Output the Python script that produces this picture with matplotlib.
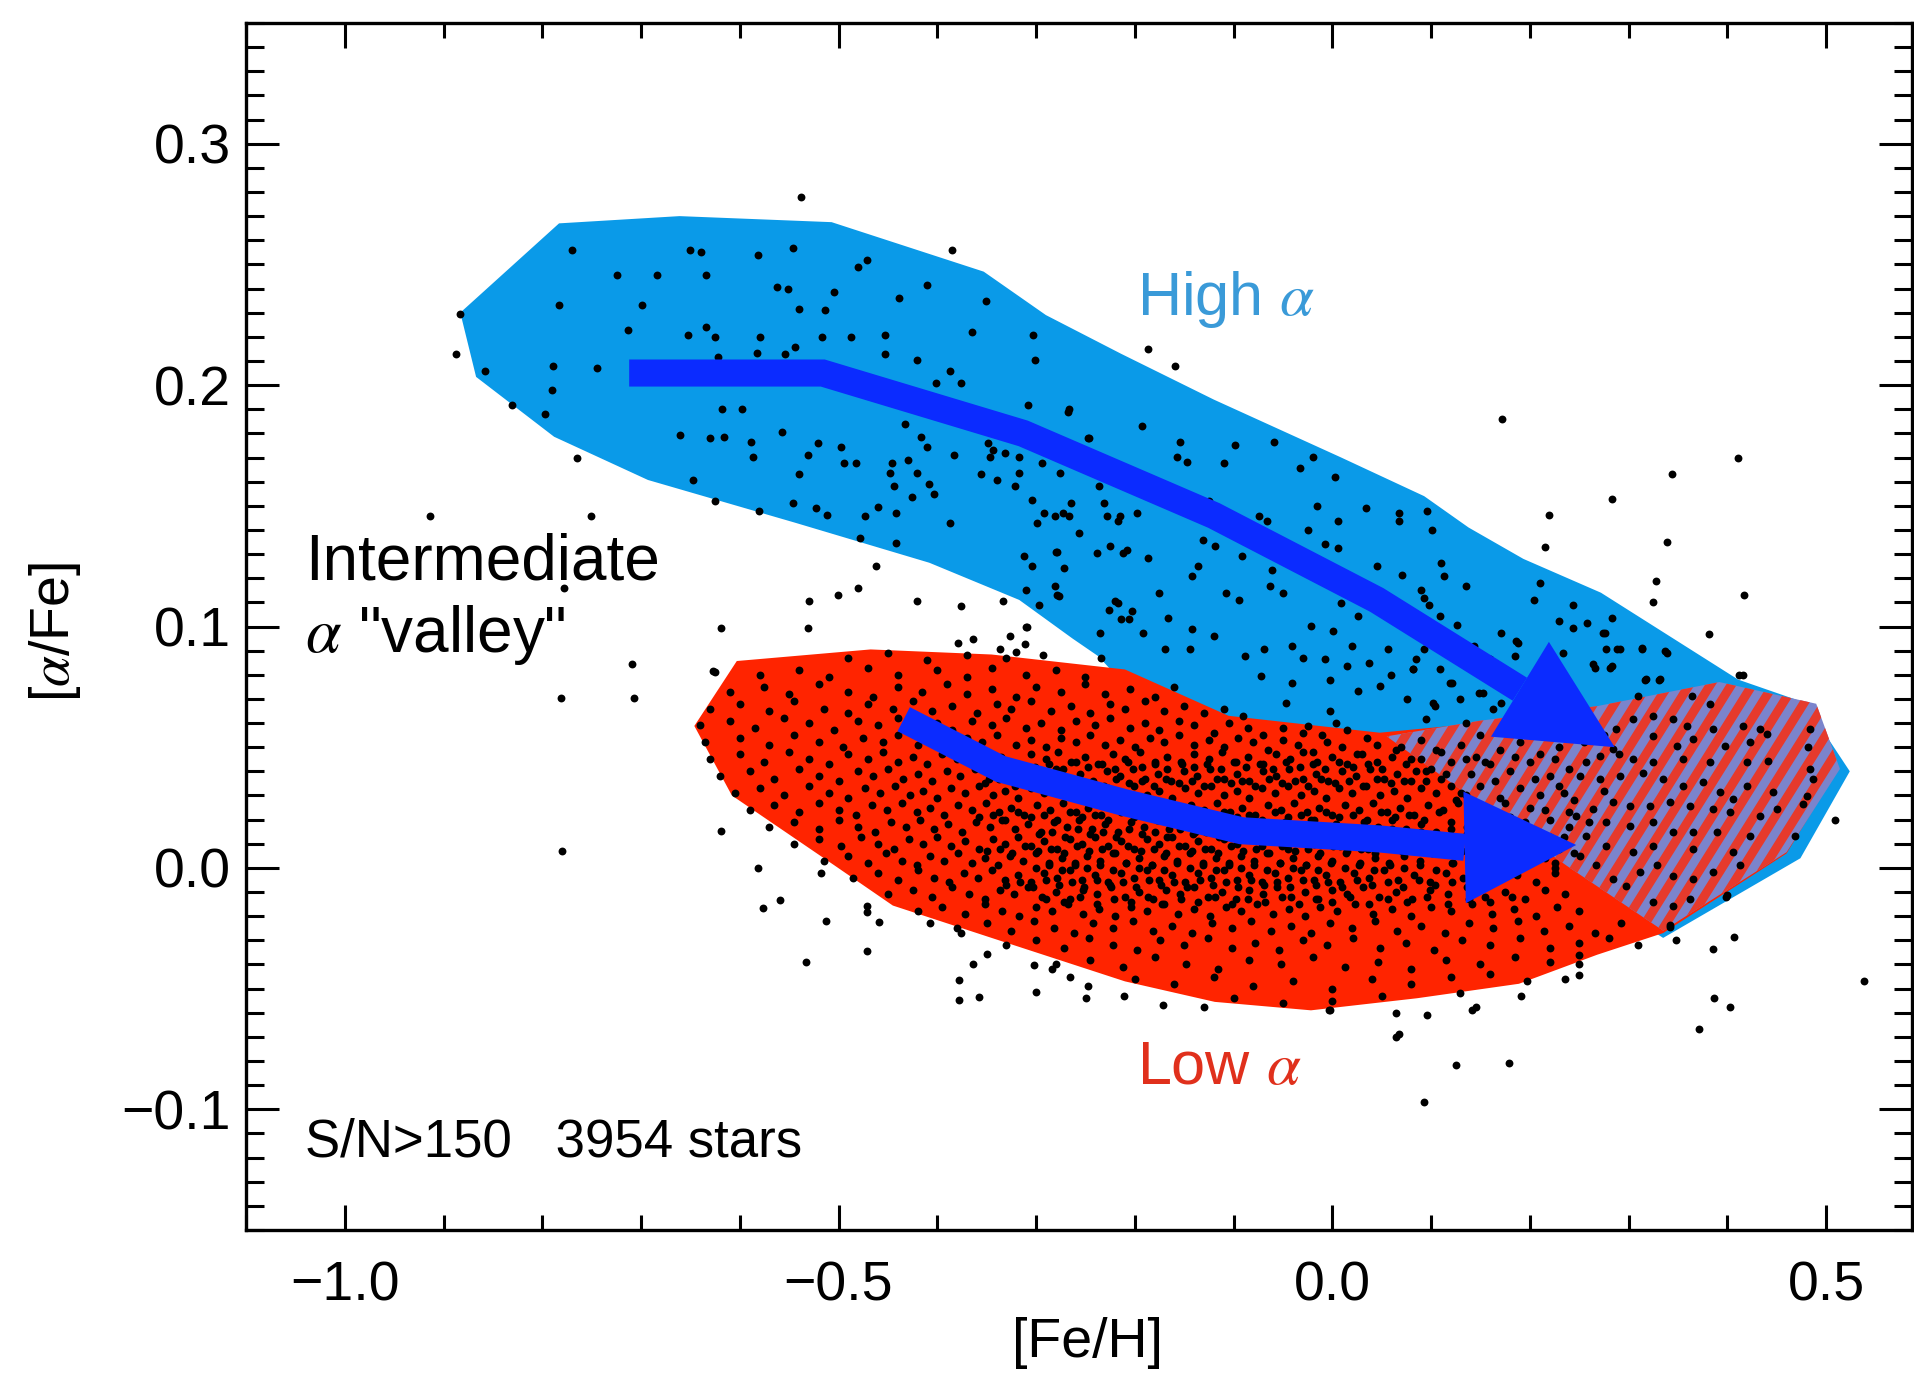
import matplotlib
matplotlib.use('Agg')
import matplotlib.pyplot as plt
import numpy as np
from matplotlib.patches import Polygon
from matplotlib.collections import LineCollection
from matplotlib.ticker import MultipleLocator

plt.rcParams['font.family'] = ['Liberation Sans', 'DejaVu Sans']
plt.rcParams['mathtext.fontset'] = 'stix'

# region outlines ([Fe/H], [alpha/Fe])
high_alpha_region = [(-0.883, 0.230), (-0.783, 0.267), (-0.661, 0.270), (-0.507, 0.2675), (-0.353, 0.247),
                     (-0.29, 0.229), (-0.214, 0.213), (-0.12, 0.194), (0.009, 0.170), (0.093, 0.154),
                     (0.138, 0.141), (0.1935, 0.128), (0.272, 0.114), (0.411, 0.078), (0.478, 0.0685),
                     (0.524, 0.040), (0.474, 0.004), (0.335, -0.029), (0.233, -0.002), (0.06, 0.045),
                     (-0.1, 0.052), (-0.215, 0.078), (-0.237, 0.0877), (-0.263, 0.095), (-0.317, 0.111),
                     (-0.408, 0.1264), (-0.544, 0.143), (-0.693, 0.1607), (-0.788, 0.1786), (-0.867, 0.2034)]
low_alpha_region = [(-0.646, 0.0588), (-0.603, 0.0857), (-0.4675, 0.0905), (-0.345, 0.0884), (-0.21, 0.0822),
                    (-0.105, 0.063), (0.048, 0.056), (0.15, 0.060), (0.268, 0.066), (0.392, 0.076),
                    (0.49, 0.067), (0.512, 0.041), (0.46, 0.006), (0.335, -0.027), (0.268, -0.036),
                    (0.189, -0.048), (0.0857, -0.054), (-0.0216, -0.059), (-0.119, -0.0555), (-0.21, -0.047),
                    (-0.345, -0.029), (-0.445, -0.0156), (-0.504, 0.001), (-0.608, 0.030)]
overlap_region = [(0.055, 0.0545), (0.15, 0.061), (0.268, 0.067), (0.392, 0.077), (0.49, 0.068),
                  (0.514, 0.041), (0.46, 0.0065), (0.335, -0.026), (0.237, 0.001)]

# evolution arrows
arrow_upper_path = [(-0.712, 0.205), (-0.516, 0.205), (-0.313, 0.180), (-0.12, 0.146), (0.045, 0.111), (0.19, 0.074)]
arrow_upper_tip = (0.286, 0.050)
arrow_lower_path = [(-0.434, 0.0616), (-0.336, 0.041), (-0.21, 0.027), (-0.092, 0.0154), (0.048, 0.012), (0.134, 0.0085)]
arrow_lower_tip = (0.247, 0.0095)

# stars
stars_high = [
    (-0.883, 0.2296), (-0.858, 0.206), (-0.831, 0.1917), (-0.797, 0.188), (-0.790, 0.198), (-0.789, 0.208),
    (-0.745, 0.207), (-0.783, 0.233), (-0.770, 0.256), (-0.7245, 0.2455), (-0.684, 0.2455), (-0.634, 0.2455),
    (-0.650, 0.256), (-0.639, 0.255), (-0.582, 0.2537), (-0.5456, 0.257), (-0.699, 0.233), (-0.713, 0.2227),
    (-0.652, 0.2207), (-0.634, 0.224), (-0.625, 0.220), (-0.6225, 0.2117), (-0.580, 0.220), (-0.583, 0.2134),
    (-0.554, 0.213), (-0.544, 0.2158), (-0.562, 0.2406), (-0.551, 0.240), (-0.540, 0.2317), (-0.514, 0.2313),
    (-0.505, 0.2386), (-0.517, 0.220), (-0.487, 0.220), (-0.453, 0.2207), (-0.453, 0.213), (-0.421, 0.2106),
    (-0.439, 0.236), (-0.410, 0.2413), (-0.480, 0.2489), (-0.471, 0.252), (-0.3646, 0.222), (-0.351, 0.235),
    (-0.387, 0.206), (-0.376, 0.2007), (-0.401, 0.2007), (-0.3035, 0.2207), (-0.301, 0.2103), (-0.308, 0.1917),
    (-0.267, 0.190), (-0.247, 0.178), (-0.661, 0.1793), (-0.630, 0.178), (-0.616, 0.1786), (-0.618, 0.190),
    (-0.598, 0.190), (-0.6476, 0.1607), (-0.625, 0.1518), (-0.5806, 0.148), (-0.5456, 0.151), (-0.523, 0.149),
    (-0.512, 0.146), (-0.4736, 0.1456), (-0.460, 0.1497), (-0.4416, 0.147), (-0.478, 0.1366), (-0.4416, 0.1346),
    (-0.387, 0.1429), (-0.589, 0.1766), (-0.5865, 0.1704), (-0.557, 0.1807), (-0.521, 0.176), (-0.531, 0.171),
    (-0.498, 0.1745), (-0.494, 0.1676), (-0.482, 0.1676), (-0.540, 0.163), (-0.4462, 0.1676), (-0.448, 0.1635),
    (-0.430, 0.169), (-0.421, 0.1635), (-0.426, 0.1538), (-0.408, 0.159), (-0.403, 0.155), (-0.444, 0.158),
    (-0.383, 0.171), (-0.4326, 0.184), (-0.4168, 0.1786), (-0.410, 0.1745), (-0.349, 0.176), (-0.344, 0.173),
    (-0.347, 0.1704), (-0.331, 0.1718), (-0.3176, 0.1704), (-0.3176, 0.1635), (-0.3217, 0.158), (-0.3556, 0.163),
    (-0.3398, 0.1607), (-0.2944, 0.1676), (-0.3036, 0.1525), (-0.292, 0.147), (-0.281, 0.1456), (-0.267, 0.1456),
    (-0.299, 0.1429), (-0.3126, 0.129), (-0.279, 0.131), (-0.272, 0.1243), (-0.3036, 0.1249), (-0.310, 0.1153),
    (-0.2967, 0.109), (-0.2764, 0.1125), (-0.281, 0.1167), (-0.238, 0.1305), (-0.215, 0.1456), (-0.208, 0.1318),
    (-0.2175, 0.1098), (-0.206, 0.1029), (-0.2356, 0.0974), (-0.2266, 0.107),
    (-0.2674, 0.189), (-0.193, 0.183), (-0.2468, 0.178), (-0.154, 0.1766), (-0.0984, 0.175), (-0.059, 0.1766),
    (-0.157, 0.1704), (-0.147, 0.168), (-0.1095, 0.1676), (-0.020, 0.1704), (-0.0328, 0.1656), (0.0024, 0.162),
    (-0.2758, 0.1635), (-0.2367, 0.158), (-0.273, 0.147), (-0.228, 0.1456), (-0.217, 0.1435), (-0.1977, 0.147),
    (-0.256, 0.1387), (-0.280, 0.131), (-0.2255, 0.1332), (-0.2116, 0.1305), (-0.1865, 0.1284), (-0.279, 0.1132),
    (-0.220, 0.1105), (-0.203, 0.1063), (-0.1754, 0.114), (-0.1668, 0.1036), (-0.2144, 0.1029), (-0.192, 0.0974),
    (-0.1417, 0.0988), (-0.1196, 0.096), (-0.1445, 0.0905), (-0.1697, 0.0905), (-0.234, 0.087), (-0.125, 0.1518),
    (-0.131, 0.136), (-0.119, 0.1332), (-0.0746, 0.1456), (-0.0663, 0.1435), (-0.0915, 0.129), (-0.136, 0.1249),
    (-0.1417, 0.1208), (-0.108, 0.114), (-0.0943, 0.111), (-0.0608, 0.1236), (-0.0635, 0.1167), (-0.0497, 0.114),
    (-0.0243, 0.140), (-0.0076, 0.134), (0.006, 0.1325), (-0.016, 0.150), (0.006, 0.1435), (0.0343, 0.149),
    (0.0679, 0.147), (0.0679, 0.1435), (0.0957, 0.1477), (0.1014, 0.140), (0.0454, 0.1249), (0.0706, 0.1215),
    (0.1097, 0.1263), (0.1126, 0.1208), (0.1349, 0.1167), (0.090, 0.1153), (0.0929, 0.1118), (0.0984, 0.109),
    (0.1095, 0.1043), (0.1265, 0.1008), (0.0091, 0.1098), (0.0259, 0.1043), (-0.0216, 0.1001), (-0.0412, 0.0919),
    (0.0007, 0.098), (0.0203, 0.0919), (-0.0076, 0.0864), (-0.030, 0.087), (0.0147, 0.0836), (0.0371, 0.085),
    (0.0566, 0.0905), (0.0818, 0.0822), (0.0594, 0.080), (-0.069, 0.0905), (-0.0886, 0.0877), (-0.072, 0.0795),
    (-0.041, 0.0767), (-0.002, 0.078), (0.026, 0.0733), (0.048, 0.0753), (-0.0467, 0.0685), (-0.002, 0.065),
    (0.0036, 0.0602), (-0.0243, 0.0588), (0.076, 0.0698), (0.104, 0.067), (0.1207, 0.0767), (0.149, 0.0726),
    (0.160, 0.0795), (0.143, 0.0919), (0.160, 0.0864), (0.0929, 0.0905), (0.188, 0.0933), (0.171, 0.0974),
    (0.2047, 0.111), (0.2103, 0.118), (0.2298, 0.1022), (0.2438, 0.0995), (0.2578, 0.1015), (0.2438, 0.109),
    (0.283, 0.1036), (0.2745, 0.0974), (0.266, 0.083), (0.2774, 0.0905), (0.2885, 0.0905), (0.3137, 0.0912),
    (0.3388, 0.0891), (0.3164, 0.078), (0.3304, 0.078), (0.283, 0.0836), (0.4115, 0.080), (0.185, 0.0877),
    (0.171, 0.0685), (0.1095, 0.0822), (-0.2546, 0.167), (-0.231, 0.151), (-0.2647, 0.151),
    (0.1863, 0.0939), (0.2336, 0.0891), (0.2759, 0.0974), (0.2911, 0.0905), (0.3131, 0.0905), (0.3367, 0.0898),
    (0.264, 0.0843), (0.2809, 0.0829), (0.3181, 0.0781), (0.3316, 0.0781), (0.0849, 0.0864), (0.0815, 0.0822),
    (0.1187, 0.0767), (0.1288, 0.0698), (0.1524, 0.0726), (0.1626, 0.0657), (0.1017, 0.0685), (0.095, 0.0616),
    (0.1356, 0.0602), (0.416, 0.080),
]

stars_low = [
    (-0.49, 0.087), (-0.45, 0.089), (-0.41, 0.086), (-0.37, 0.088), (-0.33, 0.087),
    (-0.58, 0.080), (-0.54, 0.082), (-0.51, 0.079), (-0.47, 0.083), (-0.44, 0.080), (-0.40, 0.082), (-0.37, 0.079),
    (-0.345, 0.083), (-0.31, 0.080), (-0.28, 0.082), (-0.25, 0.079),
    (-0.61, 0.073), (-0.575, 0.075), (-0.55, 0.072), (-0.52, 0.076), (-0.49, 0.073), (-0.465, 0.071), (-0.44, 0.075),
    (-0.415, 0.073), (-0.39, 0.076), (-0.37, 0.072), (-0.345, 0.074), (-0.32, 0.071), (-0.30, 0.075), (-0.275, 0.073),
    (-0.25, 0.076), (-0.23, 0.072), (-0.205, 0.074), (-0.18, 0.071), (-0.16, 0.075),
    (-0.63, 0.066), (-0.60, 0.068), (-0.57, 0.065), (-0.545, 0.069), (-0.515, 0.066), (-0.49, 0.064), (-0.47, 0.068),
    (-0.445, 0.066), (-0.425, 0.069), (-0.405, 0.065), (-0.385, 0.067), (-0.36, 0.064), (-0.34, 0.068), (-0.325, 0.066),
    (-0.305, 0.069), (-0.285, 0.065), (-0.265, 0.067), (-0.245, 0.064), (-0.225, 0.068), (-0.21, 0.066), (-0.19, 0.069),
    (-0.17, 0.065), (-0.15, 0.067), (-0.13, 0.064), (-0.11, 0.066), (-0.09, 0.063),
    (-0.64, 0.059), (-0.61, 0.061), (-0.585, 0.058), (-0.555, 0.062), (-0.53, 0.060), (-0.505, 0.057), (-0.48, 0.061),
    (-0.46, 0.059), (-0.44, 0.062), (-0.42, 0.058), (-0.40, 0.060), (-0.385, 0.057), (-0.365, 0.061), (-0.345, 0.059),
    (-0.33, 0.062), (-0.31, 0.058), (-0.295, 0.060), (-0.275, 0.057), (-0.26, 0.061), (-0.24, 0.059), (-0.225, 0.062),
    (-0.205, 0.058), (-0.19, 0.060), (-0.175, 0.057), (-0.155, 0.061), (-0.14, 0.059), (-0.12, 0.056), (-0.105, 0.060),
    (-0.085, 0.058), (-0.07, 0.055), (-0.05, 0.058), (-0.03, 0.056), (-0.01, 0.055), (0.015, 0.057), (0.035, 0.054),
    (-0.635, 0.052), (-0.60, 0.054), (-0.57, 0.051), (-0.545, 0.055), (-0.52, 0.052), (-0.495, 0.050), (-0.475, 0.054),
    (-0.455, 0.052), (-0.44, 0.055), (-0.42, 0.051), (-0.405, 0.053), (-0.39, 0.050), (-0.37, 0.054), (-0.355, 0.052),
    (-0.34, 0.055), (-0.32, 0.051), (-0.305, 0.053), (-0.29, 0.050), (-0.275, 0.054), (-0.26, 0.052), (-0.245, 0.055),
    (-0.23, 0.051), (-0.215, 0.053), (-0.20, 0.050), (-0.185, 0.054), (-0.17, 0.052), (-0.155, 0.055), (-0.14, 0.051),
    (-0.125, 0.053), (-0.11, 0.050), (-0.095, 0.054), (-0.08, 0.052), (-0.065, 0.049), (-0.05, 0.053), (-0.035, 0.051),
    (-0.02, 0.048), (-0.005, 0.052), (0.01, 0.050), (0.025, 0.047), (0.045, 0.051), (0.065, 0.049),
    (-0.63, 0.045), (-0.60, 0.047), (-0.575, 0.044), (-0.55, 0.048), (-0.53, 0.045), (-0.51, 0.043), (-0.49, 0.047),
    (-0.47, 0.045), (-0.455, 0.048), (-0.44, 0.044), (-0.425, 0.046), (-0.41, 0.043), (-0.395, 0.047), (-0.38, 0.045),
    (-0.365, 0.048), (-0.35, 0.044), (-0.335, 0.046), (-0.32, 0.043), (-0.305, 0.047), (-0.29, 0.045), (-0.278, 0.048),
    (-0.265, 0.044), (-0.25, 0.046), (-0.237, 0.043), (-0.222, 0.047), (-0.21, 0.045), (-0.195, 0.048), (-0.18, 0.044),
    (-0.167, 0.046), (-0.152, 0.043), (-0.14, 0.047), (-0.125, 0.045), (-0.112, 0.048), (-0.098, 0.044), (-0.085, 0.046),
    (-0.07, 0.043), (-0.057, 0.047), (-0.043, 0.045), (-0.03, 0.048), (-0.015, 0.044), (0.0, 0.046), (0.015, 0.043),
    (0.03, 0.047), (0.045, 0.044), (0.06, 0.046), (0.075, 0.043), (0.09, 0.045),
    (-0.62, 0.038), (-0.59, 0.040), (-0.565, 0.037), (-0.54, 0.041), (-0.52, 0.038), (-0.50, 0.036), (-0.48, 0.040),
    (-0.465, 0.038), (-0.45, 0.041), (-0.435, 0.037), (-0.42, 0.039), (-0.405, 0.036), (-0.39, 0.040), (-0.377, 0.038),
    (-0.362, 0.041), (-0.348, 0.037), (-0.333, 0.039), (-0.32, 0.036), (-0.307, 0.040), (-0.294, 0.038), (-0.28, 0.041),
    (-0.268, 0.037), (-0.255, 0.039), (-0.242, 0.036), (-0.228, 0.040), (-0.215, 0.038), (-0.202, 0.041), (-0.19, 0.037),
    (-0.176, 0.039), (-0.163, 0.036), (-0.15, 0.040), (-0.137, 0.038), (-0.124, 0.041), (-0.11, 0.037), (-0.097, 0.039),
    (-0.084, 0.036), (-0.07, 0.040), (-0.057, 0.038), (-0.044, 0.041), (-0.03, 0.037), (-0.017, 0.039), (-0.004, 0.036),
    (0.01, 0.040), (0.024, 0.038), (0.038, 0.041), (0.052, 0.037), (0.066, 0.039), (0.08, 0.036), (0.095, 0.040), (0.11, 0.037),
    (-0.605, 0.031), (-0.58, 0.033), (-0.555, 0.030), (-0.53, 0.034), (-0.51, 0.031), (-0.49, 0.029), (-0.473, 0.033),
    (-0.458, 0.031), (-0.443, 0.034), (-0.428, 0.030), (-0.414, 0.032), (-0.4, 0.029), (-0.386, 0.033), (-0.372, 0.031),
    (-0.358, 0.034), (-0.344, 0.030), (-0.331, 0.032), (-0.318, 0.029), (-0.305, 0.033), (-0.292, 0.031), (-0.279, 0.034),
    (-0.266, 0.030), (-0.253, 0.032), (-0.24, 0.029), (-0.227, 0.033), (-0.214, 0.031), (-0.201, 0.034), (-0.188, 0.030),
    (-0.175, 0.032), (-0.162, 0.029), (-0.149, 0.033), (-0.136, 0.031), (-0.123, 0.034), (-0.11, 0.030), (-0.097, 0.032),
    (-0.084, 0.029), (-0.071, 0.033), (-0.058, 0.031), (-0.045, 0.034), (-0.032, 0.030), (-0.019, 0.032), (-0.006, 0.029),
    (0.007, 0.033), (0.02, 0.031), (0.034, 0.034), (0.048, 0.030), (0.062, 0.032), (0.076, 0.029), (0.09, 0.033),
    (0.105, 0.031), (0.12, 0.034), (0.135, 0.030),
    (-0.59, 0.024), (-0.565, 0.026), (-0.54, 0.023), (-0.52, 0.027), (-0.5, 0.024), (-0.482, 0.022), (-0.466, 0.026),
    (-0.451, 0.024), (-0.436, 0.027), (-0.421, 0.023), (-0.407, 0.025), (-0.393, 0.022), (-0.379, 0.026), (-0.365, 0.024),
    (-0.351, 0.027), (-0.338, 0.023), (-0.325, 0.025), (-0.312, 0.022), (-0.299, 0.026), (-0.286, 0.024), (-0.273, 0.027),
    (-0.26, 0.023), (-0.247, 0.025), (-0.234, 0.022), (-0.221, 0.026), (-0.208, 0.024), (-0.195, 0.027), (-0.182, 0.023),
    (-0.169, 0.025), (-0.156, 0.022), (-0.143, 0.026), (-0.13, 0.024), (-0.117, 0.027), (-0.104, 0.023), (-0.091, 0.025),
    (-0.078, 0.022), (-0.065, 0.026), (-0.052, 0.024), (-0.039, 0.027), (-0.026, 0.023), (-0.013, 0.025), (0.0, 0.022),
    (0.013, 0.026), (0.027, 0.024), (0.041, 0.027), (0.055, 0.023), (0.069, 0.025), (0.083, 0.022), (0.097, 0.026),
    (0.112, 0.024), (0.127, 0.027), (0.142, 0.023), (0.158, 0.025),
    (-0.57, 0.017), (-0.545, 0.019), (-0.52, 0.016), (-0.5, 0.020), (-0.48, 0.017), (-0.463, 0.015), (-0.447, 0.019),
    (-0.432, 0.017), (-0.417, 0.020), (-0.403, 0.016), (-0.389, 0.018), (-0.375, 0.015), (-0.361, 0.019), (-0.347, 0.017),
    (-0.334, 0.020), (-0.321, 0.016), (-0.308, 0.018), (-0.295, 0.015), (-0.282, 0.019), (-0.269, 0.017), (-0.256, 0.020),
    (-0.243, 0.016), (-0.23, 0.018), (-0.217, 0.015), (-0.204, 0.019), (-0.191, 0.017), (-0.178, 0.020), (-0.165, 0.016),
    (-0.152, 0.018), (-0.139, 0.015), (-0.126, 0.019), (-0.113, 0.017), (-0.1, 0.020), (-0.087, 0.016), (-0.074, 0.018),
    (-0.061, 0.015), (-0.048, 0.019), (-0.035, 0.017), (-0.022, 0.020), (-0.009, 0.016), (0.004, 0.018), (0.018, 0.015),
    (0.032, 0.019), (0.046, 0.017), (0.06, 0.020), (0.075, 0.016), (0.09, 0.018), (0.105, 0.015), (0.12, 0.019),
    (0.136, 0.017), (0.152, 0.020), (0.168, 0.016), (0.185, 0.018),
    (-0.545, 0.010), (-0.52, 0.012), (-0.497, 0.009), (-0.477, 0.013), (-0.46, 0.010), (-0.444, 0.008), (-0.429, 0.012),
    (-0.414, 0.010), (-0.4, 0.013), (-0.386, 0.009), (-0.372, 0.011), (-0.358, 0.008), (-0.344, 0.012), (-0.331, 0.010),
    (-0.318, 0.013), (-0.305, 0.009), (-0.292, 0.011), (-0.279, 0.008), (-0.266, 0.012), (-0.253, 0.010), (-0.24, 0.013),
    (-0.227, 0.009), (-0.214, 0.011), (-0.201, 0.008), (-0.188, 0.012), (-0.175, 0.010), (-0.162, 0.013), (-0.149, 0.009),
    (-0.136, 0.011), (-0.123, 0.008), (-0.11, 0.012), (-0.097, 0.010), (-0.084, 0.013), (-0.071, 0.009), (-0.058, 0.011),
    (-0.045, 0.008), (-0.032, 0.012), (-0.019, 0.010), (-0.006, 0.013), (0.008, 0.009), (0.022, 0.011), (0.036, 0.008),
    (0.05, 0.012), (0.065, 0.010), (0.08, 0.013), (0.095, 0.009), (0.11, 0.011), (0.126, 0.008), (0.142, 0.012),
    (0.158, 0.010), (0.175, 0.013), (0.192, 0.009), (0.21, 0.011),
    (-0.515, 0.003), (-0.49, 0.005), (-0.47, 0.002), (-0.452, 0.006), (-0.436, 0.003), (-0.421, 0.001), (-0.407, 0.005),
    (-0.393, 0.003), (-0.379, 0.006), (-0.365, 0.002), (-0.352, 0.004), (-0.339, 0.001), (-0.326, 0.005), (-0.313, 0.003),
    (-0.3, 0.006), (-0.287, 0.002), (-0.274, 0.004), (-0.261, 0.001), (-0.248, 0.005), (-0.235, 0.003), (-0.222, 0.006),
    (-0.209, 0.002), (-0.196, 0.004), (-0.183, 0.001), (-0.17, 0.005), (-0.157, 0.003), (-0.144, 0.006), (-0.131, 0.002),
    (-0.118, 0.004), (-0.105, 0.001), (-0.092, 0.005), (-0.079, 0.003), (-0.066, 0.006), (-0.053, 0.002), (-0.04, 0.004),
    (-0.027, 0.001), (-0.014, 0.005), (0.0, 0.003), (0.014, 0.006), (0.028, 0.002), (0.043, 0.004), (0.058, 0.001),
    (0.073, 0.005), (0.089, 0.003), (0.105, 0.006), (0.121, 0.002), (0.138, 0.004), (0.155, 0.001), (0.172, 0.005),
    (0.19, 0.003), (0.208, 0.006), (0.225, 0.002),
    (-0.485, -0.004), (-0.46, -0.002), (-0.44, -0.005), (-0.42, -0.001), (-0.403, -0.004), (-0.388, -0.006),
    (-0.373, -0.002), (-0.359, -0.004), (-0.345, -0.001), (-0.331, -0.005), (-0.318, -0.003), (-0.305, -0.006),
    (-0.292, -0.002), (-0.279, -0.004), (-0.266, -0.001), (-0.253, -0.005), (-0.24, -0.003), (-0.227, -0.006),
    (-0.214, -0.002), (-0.201, -0.004), (-0.188, -0.001), (-0.175, -0.005), (-0.162, -0.003), (-0.149, -0.006),
    (-0.136, -0.002), (-0.123, -0.004), (-0.11, -0.001), (-0.097, -0.005), (-0.084, -0.003), (-0.071, -0.006),
    (-0.058, -0.002), (-0.045, -0.004), (-0.032, -0.001), (-0.019, -0.005), (-0.006, -0.003), (0.008, -0.006),
    (0.022, -0.002), (0.037, -0.004), (0.052, -0.001), (0.067, -0.005), (0.083, -0.003), (0.099, -0.006),
    (0.115, -0.002), (0.132, -0.004), (0.15, -0.001), (0.168, -0.005), (0.187, -0.003), (0.206, -0.006), (0.225, -0.002),
    (-0.45, -0.011), (-0.425, -0.009), (-0.405, -0.012), (-0.385, -0.008), (-0.368, -0.011), (-0.352, -0.013),
    (-0.337, -0.009), (-0.322, -0.011), (-0.308, -0.008), (-0.294, -0.012), (-0.28, -0.010), (-0.266, -0.013),
    (-0.252, -0.009), (-0.238, -0.011), (-0.224, -0.008), (-0.21, -0.012), (-0.196, -0.010), (-0.182, -0.013),
    (-0.168, -0.009), (-0.154, -0.011), (-0.14, -0.008), (-0.126, -0.012), (-0.112, -0.010), (-0.098, -0.013),
    (-0.084, -0.009), (-0.07, -0.011), (-0.056, -0.008), (-0.042, -0.012), (-0.028, -0.010), (-0.014, -0.013),
    (0.0, -0.009), (0.015, -0.011), (0.031, -0.008), (0.047, -0.012), (0.064, -0.010), (0.081, -0.013), (0.099, -0.009),
    (0.117, -0.011), (0.136, -0.008), (0.155, -0.012), (0.175, -0.010), (0.195, -0.013), (0.215, -0.009), (0.236, -0.011),
    (-0.42, -0.018), (-0.395, -0.016), (-0.372, -0.019), (-0.352, -0.015), (-0.334, -0.018), (-0.317, -0.020),
    (-0.3, -0.016), (-0.284, -0.018), (-0.268, -0.015), (-0.252, -0.019), (-0.236, -0.017), (-0.22, -0.020),
    (-0.204, -0.016), (-0.188, -0.018), (-0.172, -0.015), (-0.156, -0.019), (-0.14, -0.017), (-0.124, -0.020),
    (-0.108, -0.016), (-0.092, -0.018), (-0.076, -0.015), (-0.06, -0.019), (-0.044, -0.017), (-0.028, -0.020),
    (-0.012, -0.016), (0.005, -0.018), (0.023, -0.015), (0.041, -0.019), (0.06, -0.017), (0.08, -0.020), (0.1, -0.016),
    (0.12, -0.018), (0.141, -0.015), (0.162, -0.019), (0.184, -0.017), (0.206, -0.020), (0.228, -0.016), (0.25, -0.018),
    (-0.38, -0.025), (-0.35, -0.023), (-0.325, -0.026), (-0.302, -0.022), (-0.282, -0.025), (-0.262, -0.027),
    (-0.242, -0.023), (-0.222, -0.025), (-0.202, -0.022), (-0.182, -0.026), (-0.162, -0.024), (-0.142, -0.027),
    (-0.122, -0.023), (-0.102, -0.025), (-0.082, -0.022), (-0.062, -0.026), (-0.042, -0.024), (-0.022, -0.027),
    (-0.002, -0.023), (0.02, -0.025), (0.043, -0.022), (0.066, -0.026), (0.09, -0.024), (0.114, -0.027), (0.138, -0.023),
    (0.163, -0.025), (0.188, -0.022), (0.214, -0.026), (0.24, -0.024), (0.266, -0.027), (0.292, -0.023),
    (-0.33, -0.032), (-0.3, -0.030), (-0.272, -0.033), (-0.246, -0.029), (-0.222, -0.032), (-0.198, -0.034),
    (-0.174, -0.030), (-0.15, -0.032), (-0.126, -0.029), (-0.102, -0.033), (-0.078, -0.031), (-0.054, -0.034),
    (-0.03, -0.030), (-0.005, -0.032), (0.021, -0.029), (0.048, -0.033), (0.075, -0.031), (0.103, -0.034), (0.131, -0.030),
    (0.16, -0.032), (0.19, -0.029), (0.22, -0.033), (0.25, -0.031), (0.28, -0.029),
    (-0.28, -0.040), (-0.245, -0.038), (-0.212, -0.041), (-0.18, -0.037), (-0.148, -0.040), (-0.116, -0.042),
    (-0.084, -0.038), (-0.052, -0.040), (-0.02, -0.037), (0.013, -0.041), (0.046, -0.039), (0.08, -0.042), (0.115, -0.038),
    (0.15, -0.040), (0.185, -0.037), (0.22, -0.039), (0.25, -0.036),
    (-0.2, -0.046), (-0.16, -0.048), (-0.12, -0.045), (-0.08, -0.049), (-0.04, -0.047), (0.0, -0.050), (0.04, -0.046),
    (0.08, -0.048), (0.12, -0.045), (0.16, -0.044),
    (-0.1, -0.054), (-0.05, -0.056), (0.0, -0.055), (0.05, -0.053),
    # densest core
    (-0.352, 0.035), (-0.338, 0.037), (-0.321, 0.034), (-0.309, 0.036), (-0.297, 0.035), (-0.283, 0.037), (-0.27, 0.034),
    (-0.258, 0.036), (-0.244, 0.035), (-0.231, 0.034), (-0.219, 0.037), (-0.206, 0.035), (-0.193, 0.036), (-0.181, 0.034),
    (-0.168, 0.037), (-0.155, 0.035), (-0.142, 0.036), (-0.13, 0.034), (-0.117, 0.037), (-0.103, 0.035), (-0.091, 0.036),
    (-0.078, 0.034), (-0.064, 0.037), (-0.051, 0.035), (-0.038, 0.036), (-0.025, 0.034), (-0.011, 0.037), (0.003, 0.035),
    (0.017, 0.036), (0.031, 0.034), (0.045, 0.037), (0.059, 0.035), (0.073, 0.036),
    (-0.358, 0.021), (-0.344, 0.022), (-0.331, 0.020), (-0.318, 0.023), (-0.305, 0.021), (-0.292, 0.022), (-0.279, 0.020),
    (-0.266, 0.023), (-0.253, 0.021), (-0.24, 0.022), (-0.227, 0.020), (-0.214, 0.023), (-0.201, 0.021), (-0.188, 0.022),
    (-0.175, 0.020), (-0.162, 0.023), (-0.149, 0.021), (-0.136, 0.022), (-0.123, 0.020), (-0.11, 0.023), (-0.097, 0.021),
    (-0.084, 0.022), (-0.071, 0.020), (-0.058, 0.023), (-0.045, 0.021), (-0.032, 0.022), (-0.019, 0.020), (-0.006, 0.023),
    (0.007, 0.021), (0.021, 0.022), (0.035, 0.020), (0.049, 0.023), (0.063, 0.021), (0.078, 0.022), (0.093, 0.020), (0.108, 0.023),
    (-0.35, 0.007), (-0.337, 0.008), (-0.324, 0.006), (-0.311, 0.009), (-0.298, 0.007), (-0.285, 0.008), (-0.272, 0.006),
    (-0.259, 0.009), (-0.246, 0.007), (-0.233, 0.008), (-0.22, 0.006), (-0.207, 0.009), (-0.194, 0.007), (-0.181, 0.008),
    (-0.168, 0.006), (-0.155, 0.009), (-0.142, 0.007), (-0.129, 0.008), (-0.116, 0.006), (-0.103, 0.009), (-0.09, 0.007),
    (-0.077, 0.008), (-0.064, 0.006), (-0.051, 0.009), (-0.038, 0.007), (-0.025, 0.008), (-0.012, 0.006), (0.001, 0.009),
    (0.015, 0.007), (0.029, 0.008), (0.043, 0.006), (0.057, 0.009), (0.071, 0.007), (0.086, 0.008), (0.101, 0.006),
    (0.116, 0.009), (0.131, 0.007), (0.147, 0.008),
    (-0.33, -0.007), (-0.316, -0.006), (-0.303, -0.008), (-0.29, -0.005), (-0.277, -0.007), (-0.264, -0.006),
    (-0.251, -0.008), (-0.238, -0.005), (-0.225, -0.007), (-0.212, -0.006), (-0.199, -0.008), (-0.186, -0.005),
    (-0.173, -0.007), (-0.16, -0.006), (-0.147, -0.008), (-0.134, -0.005), (-0.121, -0.007), (-0.108, -0.006),
    (-0.095, -0.008), (-0.082, -0.005), (-0.069, -0.007), (-0.056, -0.006), (-0.043, -0.008), (-0.03, -0.005),
    (-0.017, -0.007), (-0.004, -0.006), (0.01, -0.008), (0.025, -0.005), (0.04, -0.007), (0.056, -0.006), (0.072, -0.008),
    (0.088, -0.005), (0.104, -0.007), (0.121, -0.006), (0.138, -0.008),
    (-0.301, 0.042), (-0.287, 0.043), (-0.273, 0.041), (-0.26, 0.044), (-0.247, 0.042), (-0.233, 0.043), (-0.22, 0.041),
    (-0.207, 0.044), (-0.193, 0.042), (-0.18, 0.043), (-0.167, 0.041), (-0.153, 0.044), (-0.14, 0.042), (-0.127, 0.043),
    (-0.113, 0.041), (-0.1, 0.044), (-0.087, 0.042), (-0.073, 0.043), (-0.06, 0.041), (-0.047, 0.044), (-0.033, 0.042),
    (-0.02, 0.043), (-0.007, 0.041), (0.007, 0.044), (0.021, 0.042), (0.036, 0.043), (0.05, 0.041),
    (-0.297, 0.014), (-0.284, 0.015), (-0.271, 0.013), (-0.258, 0.016), (-0.245, 0.014), (-0.232, 0.015), (-0.219, 0.013),
    (-0.206, 0.016), (-0.193, 0.014), (-0.18, 0.015), (-0.167, 0.013), (-0.154, 0.016), (-0.141, 0.014), (-0.128, 0.015),
    (-0.115, 0.013), (-0.102, 0.016), (-0.089, 0.014), (-0.076, 0.015), (-0.063, 0.013), (-0.05, 0.016), (-0.037, 0.014),
    (-0.024, 0.015), (-0.011, 0.013), (0.002, 0.016), (0.016, 0.014), (0.03, 0.015), (0.045, 0.013), (0.06, 0.016),
    (0.075, 0.014), (0.09, 0.015), (0.105, 0.013), (0.12, 0.016), (0.136, 0.014), (0.152, 0.015), (0.168, 0.013),
    (-0.3, 0.000), (-0.287, 0.001), (-0.274, -0.001), (-0.261, 0.002), (-0.248, 0.000), (-0.235, 0.001), (-0.222, -0.001),
    (-0.209, 0.002), (-0.196, 0.000), (-0.183, 0.001), (-0.17, -0.001), (-0.157, 0.002), (-0.144, 0.000), (-0.131, 0.001),
    (-0.118, -0.001), (-0.105, 0.002), (-0.092, 0.000), (-0.079, 0.001), (-0.066, -0.001), (-0.053, 0.002), (-0.04, 0.000),
    (-0.027, 0.001), (-0.014, -0.001), (-0.001, 0.002), (0.013, 0.000), (0.027, 0.001), (0.042, -0.001), (0.057, 0.002),
    (0.073, 0.000), (0.089, 0.001), (0.105, -0.001), (0.122, 0.002), (0.139, 0.000), (0.157, 0.001), (0.175, -0.001), (0.193, 0.002),
    (-0.29, -0.013), (-0.272, -0.014), (-0.255, -0.012), (-0.238, -0.015), (-0.221, -0.013), (-0.204, -0.014),
    (-0.187, -0.012), (-0.17, -0.015), (-0.153, -0.013), (-0.136, -0.014), (-0.119, -0.012), (-0.102, -0.015),
    (-0.085, -0.013), (-0.068, -0.014), (-0.051, -0.012), (-0.034, -0.015), (-0.017, -0.013), (0.0, -0.014),
    (0.018, -0.012), (0.037, -0.015), (0.056, -0.013), (0.076, -0.014), (0.096, -0.012), (0.117, -0.015),
    (0.138, -0.013), (0.16, -0.014), (0.182, -0.012),
]

stars_overlap = [
    (0.3097, 0.0712), (0.3249, 0.0629), (0.3638, 0.0712), (0.3824, 0.0678), (0.3046, 0.0616), (0.2877, 0.0574),
    (0.3451, 0.0616), (0.3587, 0.0588), (0.3249, 0.0547), (0.3486, 0.0505), (0.3654, 0.0533), (0.3857, 0.0574),
    (0.416, 0.0588), (0.433, 0.0574), (0.4399, 0.0554), (0.423, 0.052), (0.3976, 0.0505), (0.4838, 0.0574),
    (0.482, 0.0499), (0.4415, 0.0443), (0.4195, 0.0437), (0.3824, 0.0437), (0.3553, 0.045), (0.3249, 0.0437),
    (0.3046, 0.045), (0.2843, 0.0492), (0.2708, 0.0464), (0.2573, 0.0437), (0.2505, 0.0381), (0.2708, 0.0368),
    (0.2911, 0.0381), (0.3147, 0.0395), (0.335, 0.0368), (0.3553, 0.034), (0.3756, 0.0354), (0.3925, 0.0313),
    (0.406, 0.0285), (0.4195, 0.034), (0.4466, 0.0313), (0.4838, 0.0409), (0.4871, 0.0368), (0.4804, 0.0299),
    (0.477, 0.0264), (0.450, 0.0244), (0.433, 0.0216), (0.4026, 0.023), (0.3857, 0.0244), (0.3621, 0.0257),
    (0.3418, 0.0271), (0.3215, 0.0257), (0.3012, 0.0257), (0.2843, 0.0271), (0.264, 0.0244), (0.2472, 0.0216),
    (0.2776, 0.0189), (0.3012, 0.0175), (0.3249, 0.0189), (0.3451, 0.0148), (0.3654, 0.0148), (0.3891, 0.0148),
    (0.423, 0.0134), (0.4686, 0.0134), (0.2573, 0.0134), (0.2776, 0.0092), (0.3046, 0.0065), (0.3249, 0.0092),
    (0.3654, 0.0079), (0.406, 0.0065), (0.4128, 0.001), (0.2505, 0.0051), (0.2674, 0.001), (0.2843, -0.0045),
    (0.2979, -0.0073), (0.3114, -0.0018), (0.3283, 0.001), (0.3451, -0.0032), (0.3654, -0.0045), (0.3857, -0.0018),
    (0.3993, -0.0114), (0.3621, -0.0128), (0.3451, -0.0156), (0.3249, -0.0142), (0.3418, -0.0238),
    (0.07, 0.050), (0.09, 0.053), (0.11, 0.048), (0.13, 0.051), (0.15, 0.055), (0.17, 0.049), (0.19, 0.052),
    (0.21, 0.047), (0.23, 0.050), (0.10, 0.041), (0.12, 0.044), (0.14, 0.039), (0.16, 0.043), (0.18, 0.040),
    (0.20, 0.044), (0.22, 0.038), (0.24, 0.041), (0.13, 0.031), (0.15, 0.034), (0.17, 0.029), (0.19, 0.033),
    (0.21, 0.030), (0.23, 0.034), (0.245, 0.028), (0.16, 0.024), (0.18, 0.021), (0.20, 0.025), (0.22, 0.020),
    (0.24, 0.023), (0.2, 0.016), (0.22, 0.013), (0.24, 0.017), (0.23, 0.008), (0.215, 0.004),
    (0.08, 0.045), (0.095, 0.036), (0.115, 0.039), (0.125, 0.028), (0.145, 0.046), (0.165, 0.036), (0.185, 0.046),
    (0.205, 0.037), (0.225, 0.045), (0.235, 0.031), (0.175, 0.027), (0.195, 0.019), (0.215, 0.024), (0.235, 0.013),
    (0.205, 0.009), (0.225, 0.0), (0.245, 0.006), (0.255, 0.052), (0.265, 0.057), (0.245, 0.059), (0.215, 0.057),
    (0.185, 0.058), (0.155, 0.044), (0.135, 0.045), (0.105, 0.049), (0.085, 0.040), (0.275, 0.032), (0.29, 0.047),
    (0.275, 0.055), (0.26, 0.019),
]

stars_field = [
    (-0.538, 0.278), (-0.385, 0.256), (-0.187, 0.215), (-0.159, 0.208), (0.172, 0.186), (0.411, 0.170),
    (0.344, 0.163), (0.283, 0.153), (0.219, 0.146), (0.215, 0.133), (0.339, 0.135), (0.328, 0.119),
    (0.325, 0.110), (0.417, 0.113), (0.381, 0.097), (0.509, 0.020), (0.538, -0.047),
    (0.342, -0.0245), (0.348, -0.030), (0.385, -0.0335), (0.407, -0.0286), (0.399, -0.012), (0.387, -0.054),
    (0.403, -0.0575), (0.371, -0.0666), (0.310, -0.032), (0.250, -0.040), (0.250, -0.0445), (0.236, -0.046),
    (0.197, -0.047), (0.191, -0.053), (0.145, -0.0575), (0.141, -0.059), (0.129, -0.052), (0.096, -0.061),
    (0.065, -0.060), (0.068, -0.0686), (0.065, -0.070), (0.125, -0.0817), (0.179, -0.081), (0.093, -0.097),
    (-0.002, -0.059),
    (-0.619, 0.0154), (-0.582, 0.0), (-0.518, -0.002), (-0.576, -0.0167), (-0.559, -0.0132), (-0.513, -0.022),
    (-0.471, -0.0158), (-0.471, -0.0183), (-0.459, -0.0224), (-0.471, -0.0346), (-0.533, -0.039), (-0.407, -0.0227),
    (-0.376, -0.027), (-0.350, -0.0355), (-0.364, -0.040), (-0.378, -0.0466), (-0.378, -0.0548), (-0.358, -0.0534),
    (-0.300, -0.0514), (-0.302, -0.0404), (-0.284, -0.0417), (-0.266, -0.045), (-0.247, -0.049), (-0.249, -0.054),
    (-0.2105, -0.053), (-0.171, -0.057), (-0.130, -0.0576), (-0.0036, -0.059),
    (-0.619, 0.0995), (-0.531, 0.0995), (-0.379, 0.093), (-0.3635, 0.095), (-0.326, 0.096), (-0.336, 0.0905),
    (-0.320, 0.0894), (-0.311, 0.0926), (-0.293, 0.088), (-0.309, 0.100), (-0.627, 0.0815),
    (-0.914, 0.1456), (-0.7505, 0.1459), (-0.778, 0.116), (-0.7096, 0.0843), (-0.7806, 0.0702), (-0.707, 0.0702),
    (-0.625, 0.0813), (-0.780, 0.007), (-0.8875, 0.213), (-0.765, 0.170), (-0.462, 0.125), (-0.480, 0.116),
    (-0.5005, 0.1132), (-0.530, 0.1105), (-0.421, 0.1105), (-0.376, 0.1084), (-0.333, 0.1105), (-0.310, 0.100),
]

blue_fill = '#0a9ae8'
red_fill = '#ff2400'
arrow_blue = '#0b2bff'

fig = plt.figure(figsize=(19.14, 13.76), dpi=100)
ax = fig.add_axes([246 / 1914, 1 - 1230 / 1376, (1912 - 246) / 1914, (1230 - 23) / 1376])
ax.set_xlim(-1.1, 0.587)
ax.set_ylim(-0.15, 0.35)

ax.add_patch(Polygon(high_alpha_region, closed=True, facecolor=blue_fill, edgecolor='none', zorder=1))
ax.add_patch(Polygon(low_alpha_region, closed=True, facecolor=red_fill, edgecolor='none', zorder=2))
hatch = Polygon(overlap_region, closed=True, facecolor='#7b84cc', edgecolor='none', zorder=3)
ax.add_patch(hatch)

# red stripes over the overlap, steep like the original
p0 = ax.transData.transform((0, 0))
p1 = ax.transData.transform((1, 1))
sx, sy = p1 - p0
slope = np.tan(np.deg2rad(58)) * sx / sy
step = 21 / sx
segs = [[(x0, -0.06), (x0 + 0.2 / slope, 0.14)] for x0 in np.arange(-0.25, 0.6, step)]
lc = LineCollection(segs, colors='#e63a2c', linewidths=6.5, zorder=3.5)
lc.set_clip_path(hatch)
ax.add_collection(lc)

all_stars = stars_high + stars_low + stars_overlap + stars_field
star_feh, star_afe = zip(*all_stars)
ax.scatter(star_feh, star_afe, s=32, c='black', linewidths=0, zorder=4)


def draw_arrow(path, tip, color):
    xs, ys = zip(*path)
    ax.plot(xs, ys, color=color, lw=19.5, solid_capstyle='butt', solid_joinstyle='miter', zorder=6)
    base = ax.transData.transform(path[-1])
    end = ax.transData.transform(tip)
    d = end - base
    n = np.array([-d[1], d[0]]) / 2.0
    tri = ax.transData.inverted().transform(np.array([base + n, end, base - n]))
    ax.add_patch(Polygon(tri, closed=True, facecolor=color, edgecolor='none', zorder=6))


draw_arrow(arrow_upper_path, arrow_upper_tip, arrow_blue)
draw_arrow(arrow_lower_path, arrow_lower_tip, arrow_blue)

ax.text(-0.198, 0.229, r'High $\alpha$', color='#3a9ad8', fontsize=44, ha='left', va='baseline', zorder=7)
ax.text(-0.198, -0.0897, r'Low $\alpha$', color='#e0301c', fontsize=44, ha='left', va='baseline', zorder=7)
ax.text(-1.04, 0.1194, 'Intermediate', fontsize=46, ha='left', va='baseline', zorder=7)
ax.text(-1.04, 0.0893, r'$\alpha$ "valley"', fontsize=46, ha='left', va='baseline', zorder=7)
ax.text(-1.04, -0.1194, 'S/N>150   3954 stars', fontsize=38, ha='left', va='baseline', zorder=7)

ax.xaxis.set_major_locator(MultipleLocator(0.5))
ax.xaxis.set_minor_locator(MultipleLocator(0.1))
ax.yaxis.set_major_locator(MultipleLocator(0.1))
ax.yaxis.set_minor_locator(MultipleLocator(0.01))
ax.tick_params(which='both', direction='in', top=True, right=True, width=2.2, labelsize=40)
ax.tick_params(axis='y', which='major', length=24, pad=11)
ax.tick_params(axis='y', which='minor', length=13)
ax.tick_params(axis='x', which='major', length=18, pad=22)
ax.tick_params(axis='x', which='minor', length=11)
for sp in ax.spines.values():
    sp.set_linewidth(2.4)

fig.text(0.568, 0.024, '[Fe/H]', fontsize=40, ha='center', va='center')
fig.text(0.0287, 0.5407, r'[$\alpha$/Fe]', fontsize=40, ha='center', va='center', rotation=90)

fig.savefig('out.png', dpi=100, facecolor='white')
